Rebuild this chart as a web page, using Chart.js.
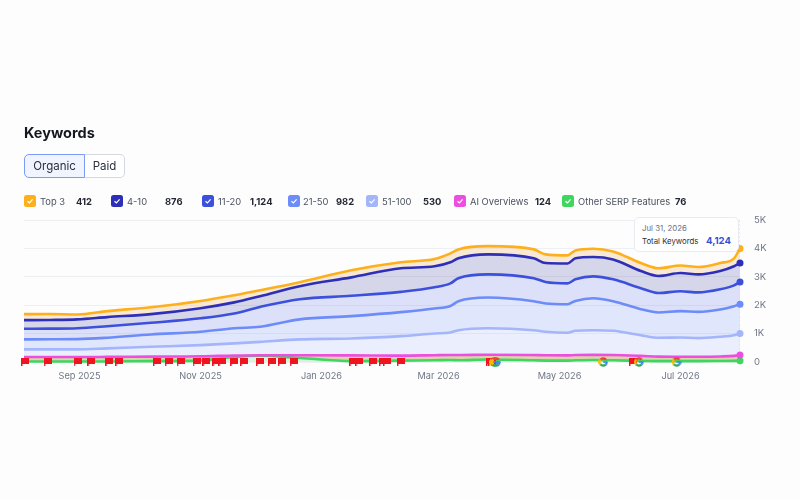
<!DOCTYPE html>
<html>

<head>
    <meta charset="UTF-8">
    <title>Keywords</title>
    <script src="https://cdn.jsdelivr.net/npm/chart.js"></script>
    <style>
        html, body { margin: 0; padding: 0; background: #fdfdfd; }
        body { width: 800px; height: 500px; position: relative; overflow: hidden; font-family: Inter, sans-serif; }
        #chart { position: absolute; left: 0; top: 0; }
        h1 { position: absolute; left: 24px; top: 124px; margin: 0; font-size: 14.5px; line-height: 18px; font-weight: 700; color: #14171f; }
        .tabs { position: absolute; left: 24px; top: 154px; height: 24px; display: flex; font-size: 11.5px; color: #2b3040; }
        .tabs div { line-height: 22px; text-align: center; box-sizing: border-box; height: 24px; }
        .organic { width: 61px; background: #f0f4fe; border: 1px solid #7c9bf7; border-radius: 5px 0 0 5px; }
        .paid { width: 40px; background: #fff; border: 1px solid #d5d8e0; border-left: 0; border-radius: 0 5px 5px 0; }
        .box { position: absolute; top: 195px; width: 12px; height: 12px; border-radius: 2.5px; }
        .box svg { display: block; }
        .lab, .val { position: absolute; top: 195px; line-height: 13px; font-size: 9.4px; white-space: nowrap; }
        .lab { color: #4a5160; }
        .val { color: #232733; font-weight: 700; }
        #tip { position: absolute; left: 634px; top: 217px; width: 105px; height: 35px; box-sizing: border-box; background: #fff; border: 1px solid #e9ebf0; border-radius: 5px; }
        #tip .d { position: absolute; left: 7px; top: 5px; font-size: 7.8px; line-height: 11px; color: #6b7280; }
        #tip .t { position: absolute; left: 7px; top: 18px; font-size: 7.8px; line-height: 11px; color: #2b3040; }
        #tip .n { position: absolute; right: 7px; top: 16px; font-size: 9.6px; line-height: 14px; color: #3a4fd8; font-weight: 700; }
    </style>
</head>

<body>
    <canvas id="chart" width="800" height="500"></canvas>
    <h1>Keywords</h1>
    <div class="tabs">
        <div class="organic">Organic</div>
        <div class="paid">Paid</div>
    </div>
    <div id="legend"></div>
    <div id="tip">
        <div class="d">Jul 31, 2026</div>
        <div class="t">Total Keywords</div>
        <div class="n">4,124</div>
    </div>
    <script>
        // days since Aug 4 2025
        var days = [0, 13, 27, 42, 64, 89, 106, 119, 139, 165, 190, 207, 215, 219, 234, 257, 263, 274, 278, 287, 297, 311, 320, 331, 340, 351, 358, 361];

        var top3 = [1684, 1690, 1675, 1790, 1930, 2150, 2350, 2525, 2810, 3230, 3510, 3625, 3825, 3965, 4080, 3965, 3790, 3755, 3930, 3990, 3895, 3485, 3300, 3400, 3345, 3485, 3650, 4000];
        var pos4to10 = [1475, 1480, 1500, 1580, 1685, 1895, 2100, 2315, 2670, 2980, 3300, 3370, 3510, 3650, 3790, 3650, 3485, 3470, 3650, 3695, 3610, 3205, 3030, 3135, 3085, 3205, 3370, 3485];
        var pos11to20 = [1170, 1175, 1190, 1260, 1380, 1540, 1710, 1940, 2210, 2330, 2470, 2630, 2770, 2950, 3085, 2950, 2820, 2770, 2910, 3015, 2910, 2600, 2430, 2490, 2450, 2560, 2700, 2820];
        var pos21to50 = [795, 800, 805, 855, 970, 1065, 1190, 1240, 1500, 1615, 1755, 1885, 1975, 2140, 2270, 2140, 2060, 2035, 2150, 2245, 2140, 1860, 1745, 1790, 1765, 1850, 1965, 2035];
        var pos51to100 = [445, 445, 445, 480, 535, 595, 655, 710, 795, 830, 910, 1005, 1040, 1120, 1190, 1120, 1065, 1030, 1100, 1120, 1100, 945, 855, 865, 840, 890, 945, 1005];
        var aiOverviews = [175, 175, 175, 180, 190, 200, 230, 240, 240, 235, 225, 240, 245, 245, 255, 245, 240, 235, 245, 250, 245, 215, 190, 185, 185, 195, 215, 245];
        var otherSerp = [20, 20, 20, 20, 30, 50, 180, 220, 140, 30, 50, 60, 70, 60, 90, 60, 50, 50, 60, 70, 60, 40, 30, 30, 30, 35, 40, 40];

        var legendNames = ['Top 3', '4-10', '11-20', '21-50', '51-100', 'AI Overviews', 'Other SERP Features'];
        var legendValues = ['412', '876', '1,124', '982', '530', '124', '76'];
        var lineColors = ['#fdb01b', '#2e2fb8', '#3d50dc', '#6d8cf9', '#a3b5fb', '#ec4fdf', '#3fd65f'];
        var fillColors = ['rgba(240,200,150,.4)', 'rgba(60,60,160,.2)', 'rgba(90,110,235,.2)', 'rgba(110,140,249,.2)', 'rgba(163,181,251,.2)', 'rgba(190,170,90,.5)', 'rgba(63,214,95,.2)'];

        var tickDays = [28, 89, 150, 209, 270, 331];
        var tickNames = ['Sep 2025', 'Nov 2025', 'Jan 2026', 'Mar 2026', 'May 2026', 'Jul 2026'];
        var yTicks = [0, 1000, 2000, 3000, 4000, 5000];

        var flagDays = [0.5, 12, 27, 34, 43, 48, 67, 73, 79, 87, 92, 97, 100, 106, 111, 119, 125, 130, 136, 166, 169, 176, 181, 183, 190, 235, 236, 307];
        var googleDays = [237, 238, 292, 310, 329];

        // legend layout: box, label, value left edges
        var legendX = [[24, 40, 76], [111, 127, 165], [202, 218, 250], [288, 303, 336], [366, 382, 423], [454, 470, 535], [562, 578, 675]];
        var legend = document.getElementById('legend');
        legendNames.forEach(function (name, i) {
            legend.innerHTML +=
                '<div class="box" style="left:' + legendX[i][0] + 'px;background:' + lineColors[i] + '">' +
                '<svg width="12" height="12"><polyline points="3.5,6.2 5.4,8 8.6,4.4" fill="none" stroke="#fff" stroke-width="1.2"/></svg></div>' +
                '<div class="lab" style="left:' + legendX[i][1] + 'px">' + name + '</div>' +
                '<div class="val" style="left:' + legendX[i][2] + 'px">' + legendValues[i] + '</div>';
        });

        function flagIcon() {
            var c = document.createElement('canvas');
            c.width = 8; c.height = 8;
            var g = c.getContext('2d');
            g.fillStyle = '#f0141e';
            g.fillRect(0, 0, 1.5, 8);
            g.fillRect(0, 0, 8, 6);
            return c;
        }

        function googleIcon() {
            var c = document.createElement('canvas');
            c.width = 10; c.height = 10;
            var g = c.getContext('2d');
            var arcs = [['#ea4335', -2.4, -0.7], ['#fbbc05', 2.4, 3.9], ['#34a853', 0.8, 2.4], ['#4285f4', -0.1, 0.8]];
            g.lineWidth = 2.4;
            arcs.forEach(function (a) {
                g.strokeStyle = a[0];
                g.beginPath();
                g.arc(5, 5, 3.6, a[1], a[2]);
                g.stroke();
            });
            g.fillStyle = '#4285f4';
            g.fillRect(5, 4.2, 4, 1.6);
            return c;
        }

        function toPoints(values) {
            return days.map(function (d, i) { return { x: d, y: values[i] }; });
        }

        function iconPoints(list) {
            return list.map(function (d) { return { x: d, y: 0 }; });
        }

        var lastIndex = days.length - 1;
        var seriesValues = [top3, pos4to10, pos11to20, pos21to50, pos51to100, aiOverviews, otherSerp];
        var datasets = seriesValues.map(function (values, i) {
            return {
                label: legendNames[i],
                data: toPoints(values),
                borderColor: lineColors[i],
                backgroundColor: fillColors[i],
                borderWidth: 2.6,
                fill: i < 6 ? '+1' : 'origin',
                cubicInterpolationMode: 'monotone',
                pointRadius: function (ctx) { return ctx.dataIndex === lastIndex ? 3.5 : 0; },
                pointBackgroundColor: lineColors[i],
                pointBorderWidth: 0,
                clip: false
            };
        });

        // hover guide at the last date
        datasets.push({
            data: [{ x: days[lastIndex], y: 0 }, { x: days[lastIndex], y: 5000 }],
            borderColor: '#d5d8e0',
            borderWidth: 1,
            borderDash: [2, 2],
            pointRadius: 0,
            fill: false,
            order: 5
        });
        datasets.push({
            data: iconPoints(flagDays),
            showLine: false,
            pointStyle: flagIcon(),
            clip: false,
            order: -1
        });
        datasets.push({
            data: iconPoints(googleDays),
            showLine: false,
            pointStyle: googleIcon(),
            clip: false,
            order: -2
        });

        new Chart(document.getElementById('chart').getContext('2d'), {
            type: 'line',
            data: { datasets: datasets },
            options: {
                responsive: false,
                animation: false,
                layout: { padding: { left: 24, top: 220, right: 0, bottom: 0 } },
                plugins: {
                    legend: { display: false },
                    tooltip: { enabled: false },
                    // all fills under all lines
                    filler: { drawTime: 'beforeDatasetsDraw' }
                },
                scales: {
                    x: {
                        type: 'linear',
                        min: 0,
                        max: 361,
                        grid: { display: false },
                        border: { display: false },
                        afterFit: function (s) { s.height = 138; },
                        afterBuildTicks: function (s) {
                            s.ticks = tickDays.map(function (d) { return { value: d }; });
                        },
                        ticks: {
                            autoSkip: false,
                            maxRotation: 0,
                            padding: 1,
                            color: '#6f7684',
                            font: { family: 'Inter', size: 9.2 },
                            callback: function (v) { return tickNames[tickDays.indexOf(v)]; }
                        }
                    },
                    y: {
                        position: 'right',
                        min: 0,
                        max: 5000,
                        grid: { color: '#eeeff2', drawTicks: false },
                        border: { display: false },
                        afterFit: function (s) { s.width = 60; },
                        afterBuildTicks: function (s) {
                            s.ticks = yTicks.map(function (v) { return { value: v }; });
                        },
                        ticks: {
                            padding: 14,
                            color: '#6f7684',
                            font: { family: 'Inter', size: 9.5 },
                            callback: function (v) { return v === 0 ? '0' : (v / 1000) + 'K'; }
                        }
                    }
                }
            }
        });
    </script>
</body>

</html>
